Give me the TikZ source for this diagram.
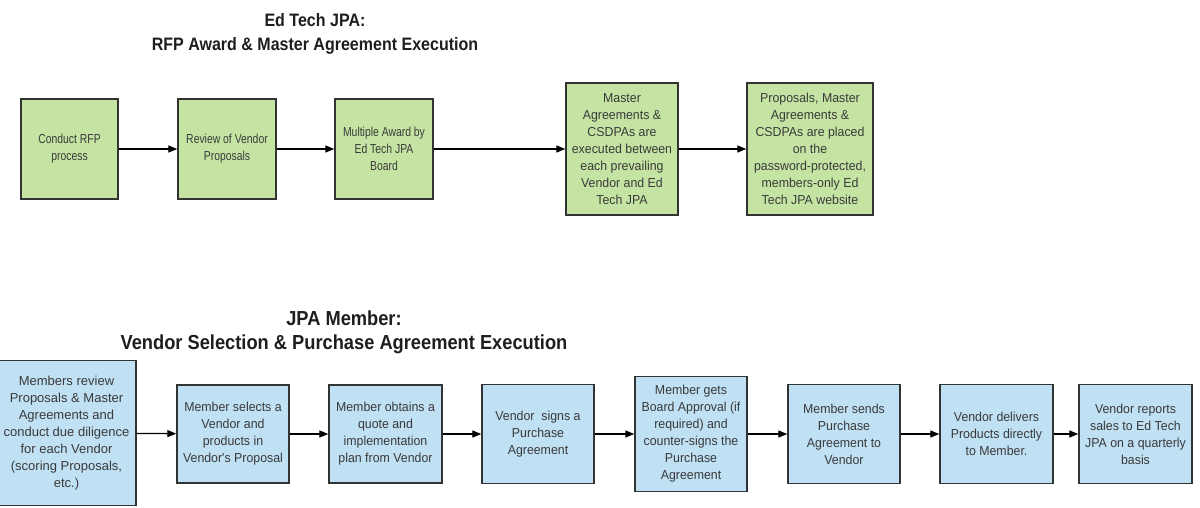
\documentclass[tikz,border=0pt]{standalone}
\usepackage{fontspec}
\setmainfont{Liberation Sans}
\newfontfamily\fnarrow[FakeStretch=0.8]{Liberation Sans}
\newfontfamily\fbody[FakeStretch=0.95]{Liberation Sans}
\newfontfamily\ftitA[FakeStretch=0.89]{Liberation Sans}
\newfontfamily\ftitB[FakeStretch=0.9]{Liberation Sans}
\usetikzlibrary{arrows.meta}
\definecolor{gfill}{HTML}{C5E4A3}
\definecolor{bfill}{HTML}{C0E0F4}
\definecolor{edgec}{HTML}{333333}
\definecolor{txtc}{HTML}{3A3A3A}
\definecolor{titc}{HTML}{1E1E1E}
\begin{document}
\begin{tikzpicture}[x=1pt,y=-1pt,
  boxbase/.style={draw=edgec, line width=1.4pt, inner sep=0pt, align=center,
    font=\fbody\fontsize{13}{17}\selectfont, text=txtc},
  gbox/.style={boxbase, fill=gfill},
  gnarrow/.style={gbox, font=\fnarrow\fontsize{13}{17}\selectfont},
  bbox/.style={boxbase, fill=bfill},
  arr/.style={-{Triangle[length=9pt,width=7pt]}, line width=1.3pt, draw=black},
  titA/.style={font=\ftitA\bfseries\fontsize{18}{22}\selectfont, text=titc, inner sep=0pt},
  titB/.style={font=\ftitB\bfseries\fontsize{20.3}{24}\selectfont, text=titc, inner sep=0pt}]
\useasboundingbox[fill=white] (0,0) rectangle (1200,508);
% titles
\node[titA] (ta) at (315,20) {Ed Tech JPA:};
\node[titA] (tb) at (315,46) {RFP Award \& Master Agreement Execution};
\node[titB] (tc) at (344,318) {JPA Member:};
\node[titB] (td) at (344,344) {Vendor Selection \& Purchase Agreement Execution};
% top row
\node[gnarrow, minimum width=97pt, minimum height=100pt] (g1) at (69.5,149) {Conduct RFP\\process};
\node[gnarrow, minimum width=98pt, minimum height=100pt] (g2) at (227,149) {Review of Vendor\\Proposals};
\node[gnarrow, minimum width=98pt, minimum height=100pt] (g3) at (384,149) {Multiple Award by\\Ed Tech JPA\\Board};
\node[gbox, minimum width=112pt, minimum height=132pt] (g4) at (622,149) {Master\\Agreements \&\\CSDPAs are\\executed between\\each prevailing\\Vendor and Ed\\Tech JPA};
\node[gbox, minimum width=126pt, minimum height=132pt] (g5) at (810,149) {Proposals, Master\\Agreements \&\\CSDPAs are placed\\on the\\password-protected,\\members-only Ed\\Tech JPA website};
\draw[arr] (g1) -- (g2);
\draw[arr] (g2) -- (g3);
\draw[arr] (g3) -- (g4);
\draw[arr] (g4) -- (g5);
% bottom row
\node[bbox, font=\fontsize{13}{17}\selectfont, minimum width=139pt, minimum height=145pt] (b1) at (66.5,433) {Members review\\Proposals \& Master\\Agreements and\\conduct due diligence\\for each Vendor\\(scoring Proposals,\\etc.)};
\node[bbox, minimum width=112pt, minimum height=98pt] (b2) at (233,434) {Member selects a\\Vendor and\\products in\\Vendor's Proposal};
\node[bbox, minimum width=113pt, minimum height=98pt] (b3) at (385.5,434) {Member obtains a\\quote and\\implementation\\plan from Vendor};
\node[bbox, minimum width=112pt, minimum height=99pt] (b4) at (538,434) {Vendor\ \ signs a\\Purchase\\Agreement};
\node[bbox, minimum width=112pt, minimum height=115pt] (b5) at (691,434) {Member gets\\Board Approval (if\\required) and\\counter-signs the\\Purchase\\Agreement};
\node[bbox, minimum width=112pt, minimum height=99pt] (b6) at (844,434) {Member sends\\Purchase\\Agreement to\\Vendor};
\node[bbox, minimum width=113pt, minimum height=99pt] (b7) at (996.5,434) {Vendor delivers\\Products directly\\to Member.};
\node[bbox, minimum width=113pt, minimum height=99pt] (b8) at (1135.5,434) {Vendor reports\\sales to Ed Tech\\JPA on a quarterly\\basis};
\draw[arr] (b1) -- (b2);
\draw[arr] (b2) -- (b3);
\draw[arr] (b3) -- (b4);
\draw[arr] (b4) -- (b5);
\draw[arr] (b5) -- (b6);
\draw[arr] (b6) -- (b7);
\draw[arr] (b7) -- (b8);
\end{tikzpicture}
\end{document}
